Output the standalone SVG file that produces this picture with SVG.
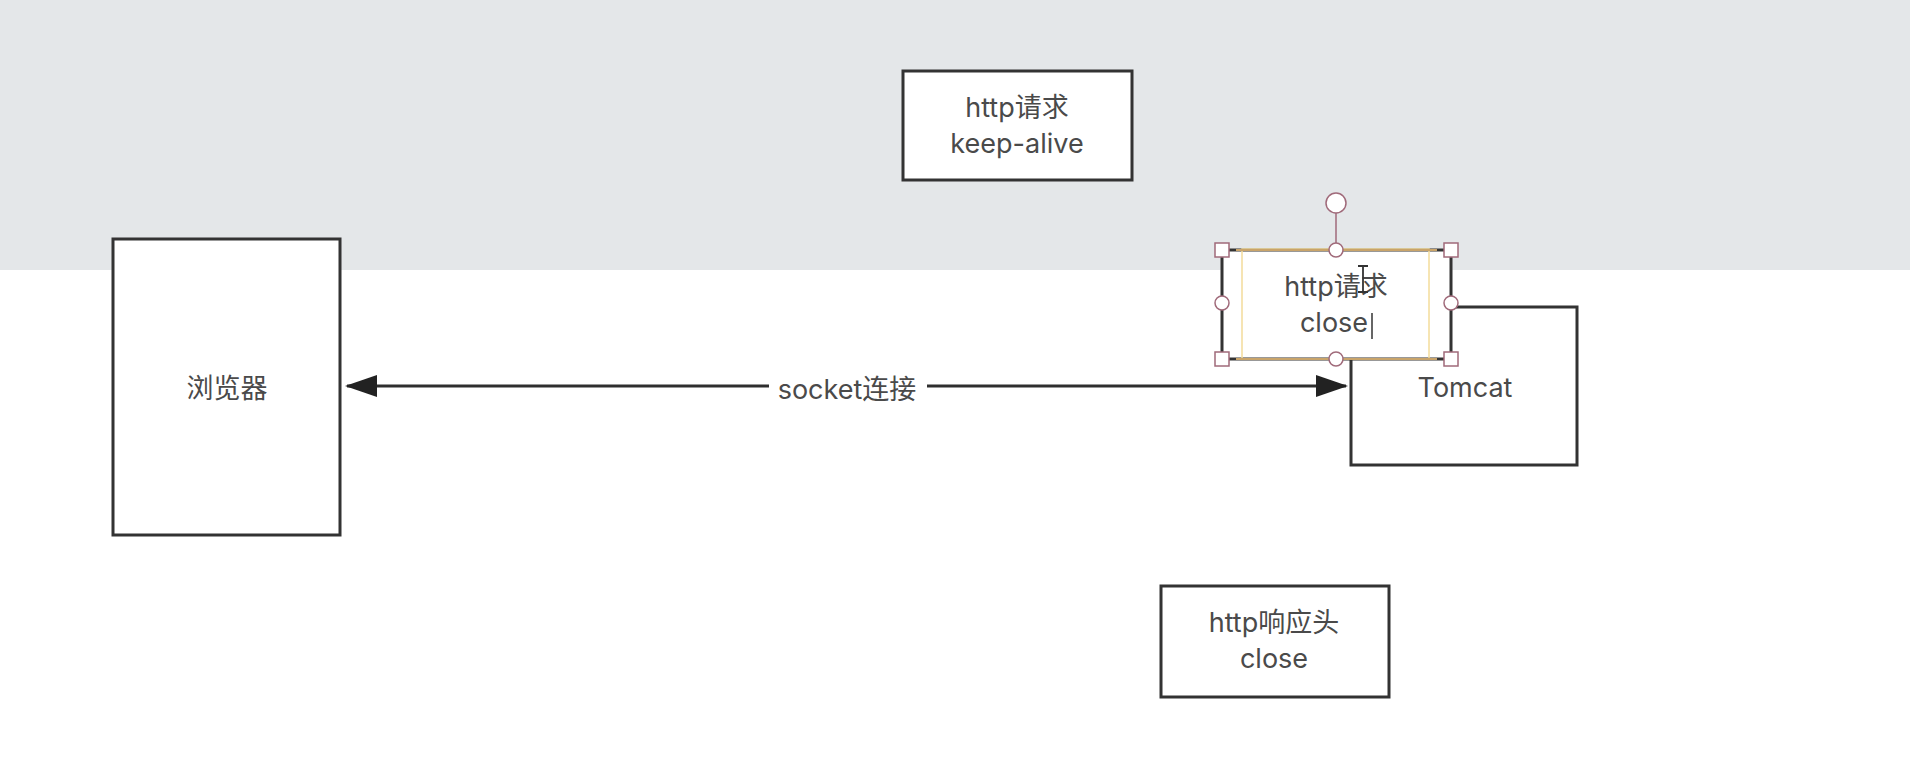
<svg xmlns="http://www.w3.org/2000/svg" width="1910" height="774" viewBox="0 0 1910 774">
  <style>
    .box { fill: #ffffff; stroke: #333333; stroke-width: 3; }
    .lbl { font-family: Inter, "Noto Sans CJK SC", sans-serif; font-size: 27px; fill: #4a4a4a; text-anchor: middle; }
    .conn { fill: none; stroke: #2e2e2e; stroke-width: 3; }
    .handle { fill: #ffffff; stroke: #a06a7a; stroke-width: 1.5; }
  </style>
  <defs>
    <marker id="arr" viewBox="0 0 32 22" refX="30" refY="11" markerWidth="32" markerHeight="22" markerUnits="userSpaceOnUse" orient="auto-start-reverse">
      <path d="M0,0 L32,11 L0,22 z" fill="#222222"/>
    </marker>
  </defs>

  <!-- background -->
  <rect x="0" y="0" width="1910" height="774" fill="#ffffff"/>
  <rect x="0" y="0" width="1910" height="270" fill="#e4e7e9"/>

  <!-- connectors -->
  <g id="connectors">
    <path class="conn" d="M347,386 L1346,386" marker-start="url(#arr)" marker-end="url(#arr)"/>
    <rect x="769" y="370" width="158" height="34" fill="#ffffff"/>
    <text class="lbl" x="847" y="399">socket连接</text>
  </g>

  <g id="browser">
    <rect class="box" x="113" y="239" width="227" height="296"/>
    <text class="lbl" x="227" y="398">浏览器</text>
  </g>

  <g id="req-keepalive">
    <rect class="box" x="903" y="71" width="229" height="109"/>
    <text class="lbl" x="1017" y="117">http请求</text>
    <text class="lbl" x="1017" y="153">keep-alive</text>
  </g>

  <g id="tomcat">
    <rect class="box" x="1351" y="307" width="226" height="158"/>
    <text class="lbl" x="1465" y="397">Tomcat</text>
  </g>

  <g id="req-close">
    <rect class="box" x="1222" y="250" width="229" height="109"/>
    <text class="lbl" x="1336" y="296">http请求</text>
    <text class="lbl" x="1334" y="332">close</text>
  </g>

  <g id="resp-close">
    <rect class="box" x="1161" y="586" width="228" height="111"/>
    <text class="lbl" x="1274" y="632">http响应头</text>
    <text class="lbl" x="1274" y="668">close</text>
  </g>

  <!-- selection overlay on the "http请求 close" box -->
  <g id="selection">
    <rect x="1242" y="249" width="187" height="110" fill="none" stroke="#f3dc9a" stroke-width="1.5"/>
    <line x1="1236" y1="250" x2="1437" y2="250" stroke="#c9a46a" stroke-width="2"/>
    <line x1="1236" y1="359" x2="1437" y2="359" stroke="#c9a46a" stroke-width="2"/>
    <line x1="1336" y1="213" x2="1336" y2="243" stroke="#a06a7a" stroke-width="1.5"/>
    <circle class="handle" cx="1336" cy="203" r="10"/>
    <circle class="handle" cx="1336" cy="250" r="7"/>
    <circle class="handle" cx="1336" cy="359" r="7"/>
    <circle class="handle" cx="1222" cy="303" r="7"/>
    <circle class="handle" cx="1451" cy="303" r="7"/>
    <rect class="handle" x="1215" y="243" width="14" height="14"/>
    <rect class="handle" x="1444" y="243" width="14" height="14"/>
    <rect class="handle" x="1215" y="352" width="14" height="14"/>
    <rect class="handle" x="1444" y="352" width="14" height="14"/>
    <!-- text caret -->
    <line x1="1372" y1="313" x2="1372" y2="339" stroke="#333333" stroke-width="1.5"/>
    <!-- I-beam pointer -->
    <path d="M1358,266 L1368,266 M1363,266 L1363,292 M1358,292 L1368,292" fill="none" stroke="#333333" stroke-width="1.8"/>
  </g>
</svg>
